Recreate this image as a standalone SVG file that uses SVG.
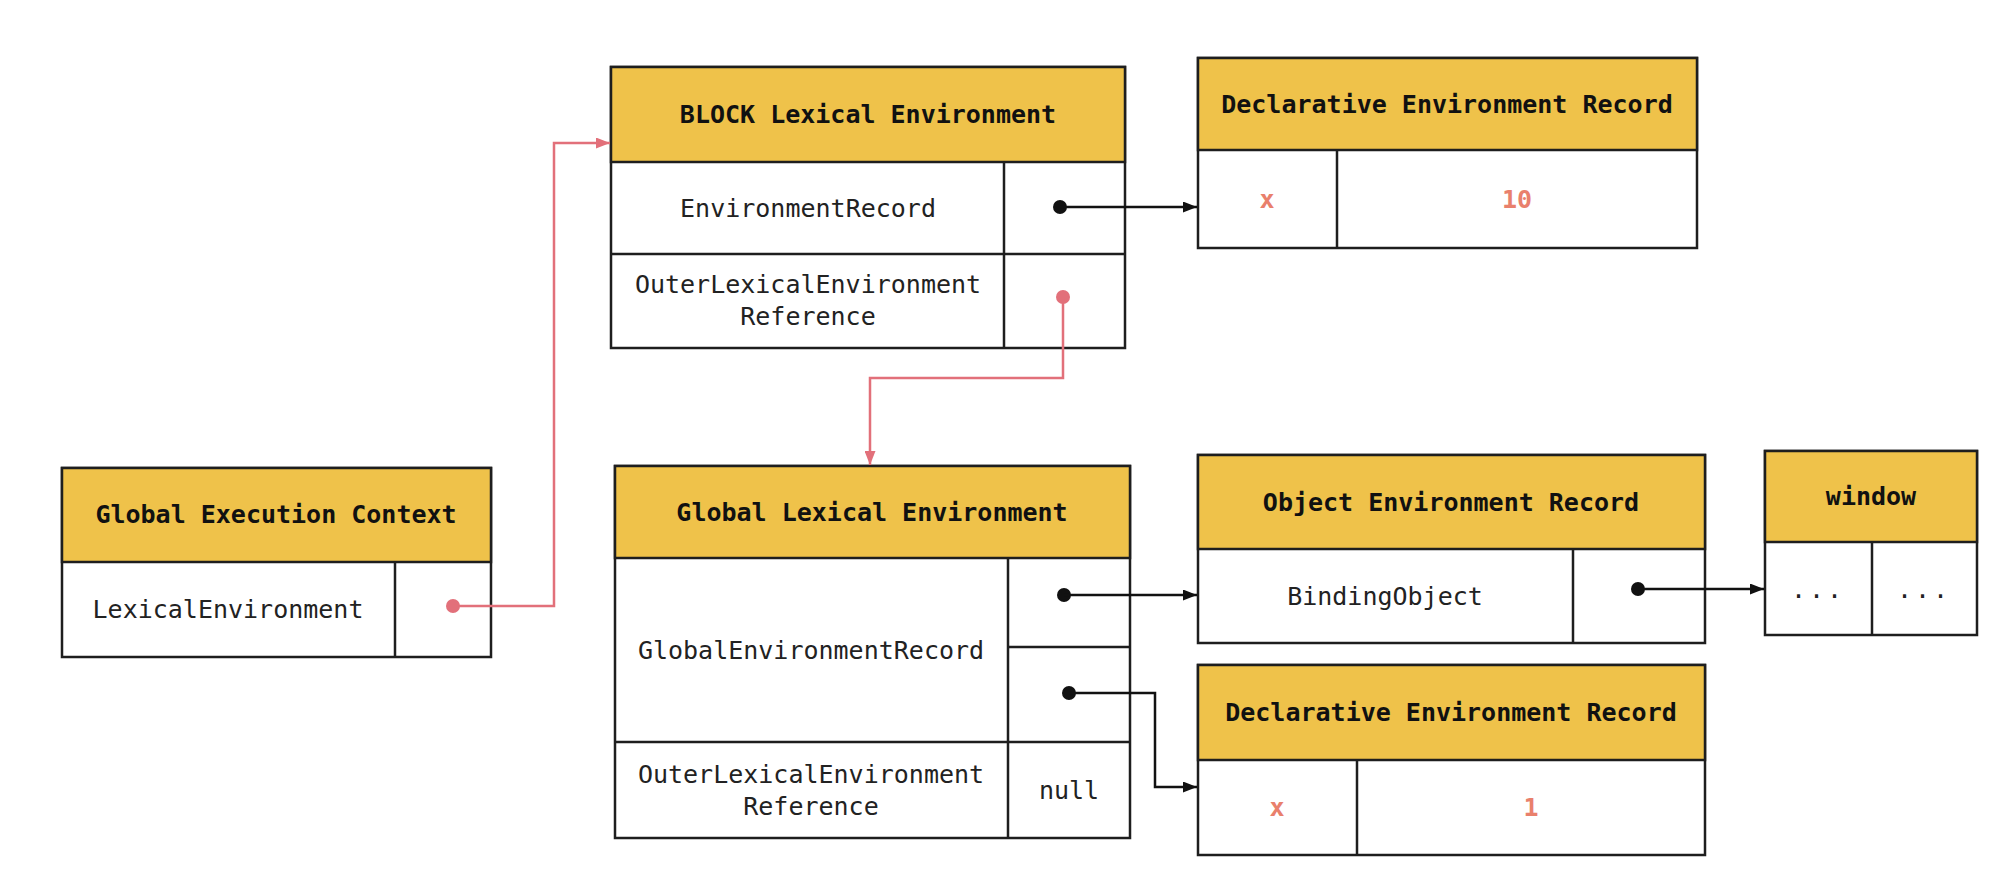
<svg xmlns="http://www.w3.org/2000/svg" width="1995" height="879" viewBox="0 0 1995 879">
<style>
.box{fill:#ffffff;stroke:#1e1e1e;stroke-width:2.5}
.hdr{fill:#EFC24A;stroke:#1e1e1e;stroke-width:2.5}
.div{stroke:#1e1e1e;stroke-width:2.5;fill:none}
.t{font-family:"DejaVu Sans Mono","Liberation Mono",monospace;font-size:25px;fill:#222;text-anchor:middle}
.h{font-weight:bold;fill:#111}
.v{fill:#E9806C;font-weight:bold}
.pk{stroke:#E2707A;stroke-width:2.5;fill:none}
.bk{stroke:#111;stroke-width:2.5;fill:none}
</style>
<defs>
<marker id="ap" viewBox="0 0 14 11" refX="14" refY="5.5" markerWidth="14" markerHeight="11" markerUnits="userSpaceOnUse" orient="auto"><path d="M0,0 L14,5.5 L0,11 Z" fill="#E2707A"/></marker>
<marker id="ab" viewBox="0 0 14 11" refX="14" refY="5.5" markerWidth="14" markerHeight="11" markerUnits="userSpaceOnUse" orient="auto"><path d="M0,0 L14,5.5 L0,11 Z" fill="#111"/></marker>
</defs>
<rect width="1995" height="879" fill="#ffffff"/>

<g id="global-execution-context">
<rect class="box" x="62" y="468" width="429" height="189"/>
<rect class="hdr" x="62" y="468" width="429" height="94"/>
<line class="div" x1="395" y1="562" x2="395" y2="657"/>
<text class="t h" x="276" y="523">Global Execution Context</text>
<text class="t" x="228" y="618">LexicalEnvironment</text>
</g>

<g id="block-lexical-environment">
<rect class="box" x="611" y="67" width="514" height="281"/>
<rect class="hdr" x="611" y="67" width="514" height="95"/>
<line class="div" x1="611" y1="254" x2="1125" y2="254"/>
<line class="div" x1="1004" y1="162" x2="1004" y2="348"/>
<text class="t h" x="868" y="123">BLOCK Lexical Environment</text>
<text class="t" x="808" y="217">EnvironmentRecord</text>
<text class="t" x="808" y="293">OuterLexicalEnvironment</text>
<text class="t" x="808" y="325">Reference</text>
</g>

<g id="declarative-record-block">
<rect class="box" x="1198" y="58" width="499" height="190"/>
<rect class="hdr" x="1198" y="58" width="499" height="92"/>
<line class="div" x1="1337" y1="150" x2="1337" y2="248"/>
<text class="t h" x="1447" y="113">Declarative Environment Record</text>
<text class="t v" x="1267" y="208">x</text>
<text class="t v" x="1517" y="208">10</text>
</g>

<g id="global-lexical-environment">
<rect class="box" x="615" y="466" width="515" height="372"/>
<rect class="hdr" x="615" y="466" width="515" height="92"/>
<line class="div" x1="1008" y1="558" x2="1008" y2="838"/>
<line class="div" x1="1008" y1="647" x2="1130" y2="647"/>
<line class="div" x1="615" y1="742" x2="1130" y2="742"/>
<text class="t h" x="872" y="521">Global Lexical Environment</text>
<text class="t" x="811" y="659">GlobalEnvironmentRecord</text>
<text class="t" x="811" y="783">OuterLexicalEnvironment</text>
<text class="t" x="811" y="815">Reference</text>
<text class="t" x="1069" y="799">null</text>
</g>

<g id="object-environment-record">
<rect class="box" x="1198" y="455" width="507" height="188"/>
<rect class="hdr" x="1198" y="455" width="507" height="94"/>
<line class="div" x1="1573" y1="549" x2="1573" y2="643"/>
<text class="t h" x="1451" y="511">Object Environment Record</text>
<text class="t" x="1385" y="605">BindingObject</text>
</g>

<g id="declarative-record-global">
<rect class="box" x="1198" y="665" width="507" height="190"/>
<rect class="hdr" x="1198" y="665" width="507" height="95"/>
<line class="div" x1="1357" y1="760" x2="1357" y2="855"/>
<text class="t h" x="1451" y="721">Declarative Environment Record</text>
<text class="t v" x="1277" y="816">x</text>
<text class="t v" x="1531" y="816">1</text>
</g>

<g id="window">
<rect class="box" x="1765" y="451" width="212" height="184"/>
<rect class="hdr" x="1765" y="451" width="212" height="91"/>
<line class="div" x1="1872" y1="542" x2="1872" y2="635"/>
<text class="t h" x="1871" y="505">window</text>
<text class="t" x="1818" y="598" letter-spacing="3">...</text>
<text class="t" x="1924" y="598" letter-spacing="3">...</text>
</g>

<g id="connectors">
<circle cx="453" cy="606" r="7" fill="#E2707A"/>
<polyline class="pk" points="453,606 554,606 554,143 610,143" marker-end="url(#ap)"/>
<circle cx="1060" cy="207" r="7" fill="#111"/>
<polyline class="bk" points="1060,207 1197,207" marker-end="url(#ab)"/>
<circle cx="1063" cy="297" r="7" fill="#E2707A"/>
<polyline class="pk" points="1063,297 1063,378 870,378 870,465" marker-end="url(#ap)"/>
<circle cx="1064" cy="595" r="7" fill="#111"/>
<polyline class="bk" points="1064,595 1197,595" marker-end="url(#ab)"/>
<circle cx="1069" cy="693" r="7" fill="#111"/>
<polyline class="bk" points="1069,693 1155,693 1155,787 1197,787" marker-end="url(#ab)"/>
<circle cx="1638" cy="589" r="7" fill="#111"/>
<polyline class="bk" points="1638,589 1764,589" marker-end="url(#ab)"/>
</g>
</svg>
